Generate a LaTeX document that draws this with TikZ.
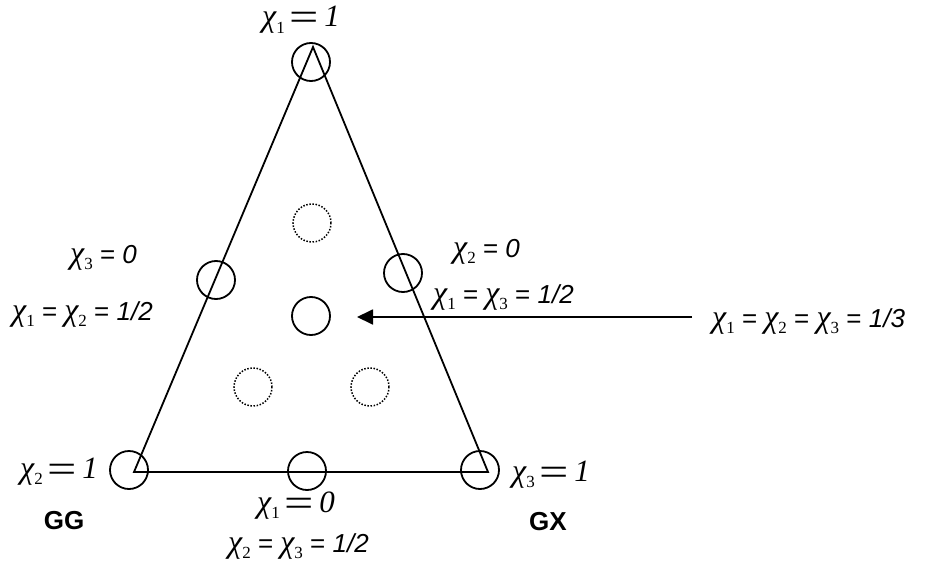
\documentclass[tikz,border=0pt]{standalone}
\usepackage{fontspec}
\setmainfont{Liberation Sans}
\newfontfamily\tnr{Liberation Serif}
\usepackage{tikz}
\usetikzlibrary{arrows.meta, positioning}
\tikzset{
  site/.style={circle, draw=black, minimum size=38pt, inner sep=0pt, line width=1.8pt},
  ghost/.style={site, line width=1.5pt, dash pattern=on 1.5pt off 1.6pt},
  edge/.style={line width=1.8pt, line join=miter},
  arrow/.style={line width=1.8pt,-{Triangle[length=16pt,width=15pt]}},
  vlabel/.style={inner sep=0pt, anchor=base west, font=\fontsize{31}{31}\selectfont},
  slabel/.style={inner sep=0pt, anchor=base west, font=\fontsize{26}{26}\selectfont},
  corner/.style={inner sep=0pt, font=\fontsize{26}{26}\selectfont\bfseries}
}
% chi with subscript
\newcommand{\X}[1]{{\tnr\itshape\fontsize{32}{32}\selectfont χ}{\tnr\fontsize{17}{17}\selectfont\raisebox{-6pt}{#1}}}
\newcommand{\Eq}{\,{\tnr\fontsize{40}{40}\selectfont\raisebox{-4pt}{\scalebox{1.3}[1]{=}}}\,}

\begin{document}
\begin{tikzpicture}[x=1pt, y=-1pt]
    \useasboundingbox (0,0) rectangle (935,570);

    % Ecken des Dreiecks
    \coordinate (A) at (313,47);
    \coordinate (B) at (134,472);
    \coordinate (C) at (488,472);
    \draw[edge] (A) -- (B) -- (C) -- cycle;

    % Kreise
    \node[site] (top) at (311,62) {};
    \node[site] (left) at (216,280) {};
    \node[site] (right) at (403,273) {};
    \node[site] (gg) at (129,470) {};
    \node[site] (base) at (307,471) {};
    \node[site] (gx) at (480,470) {};
    \node[site] (mid) at (311,316) {};
    \node[ghost] (g1) at (312,223) {};
    \node[ghost] (g2) at (253,387) {};
    \node[ghost] (g3) at (370,387) {};

    % Beschriftungen
    \node[vlabel] (ltop) at (262,27) {\X{1}\Eq{\tnr\itshape 1}};
    \node[vlabel] (lgg) at (20,478) {\X{2}\Eq{\tnr\itshape 1}};
    \node[vlabel] (lgx) at (512,481) {\X{3}\Eq{\tnr\itshape 1}};
    \node[vlabel] (lbase) at (257,512) {\X{1}\Eq{\tnr\itshape 0}};
    \node[slabel] (lleft1) at (70,263) {\X{3} = {\itshape 0}};
    \node[slabel] (lleft2) at (12,320) {\X{1} = \X{2} = {\itshape 1/2}};
    \node[slabel] (lright1) at (453,257) {\X{2} = {\itshape 0}};
    \node[slabel] (lright2) at (433,303) {\X{1} = \X{3} = {\itshape 1/2}};
    \node[slabel] (lbase2) at (228,552) {\X{2} = \X{3} = {\itshape 1/2}};
    \node[slabel] (avg) at (712,327) {\X{1} = \X{2} = \X{3} = {\itshape 1/3}};
    \node[corner] (GG) at (64,521) {GG};
    \node[corner] (GX) at (548,522) {GX};

    % Pfeil
    \coordinate (tail) at (692,317);
    \coordinate (head) at (357,317);
    \draw[arrow] (tail) -- (head);
\end{tikzpicture}
\end{document}
